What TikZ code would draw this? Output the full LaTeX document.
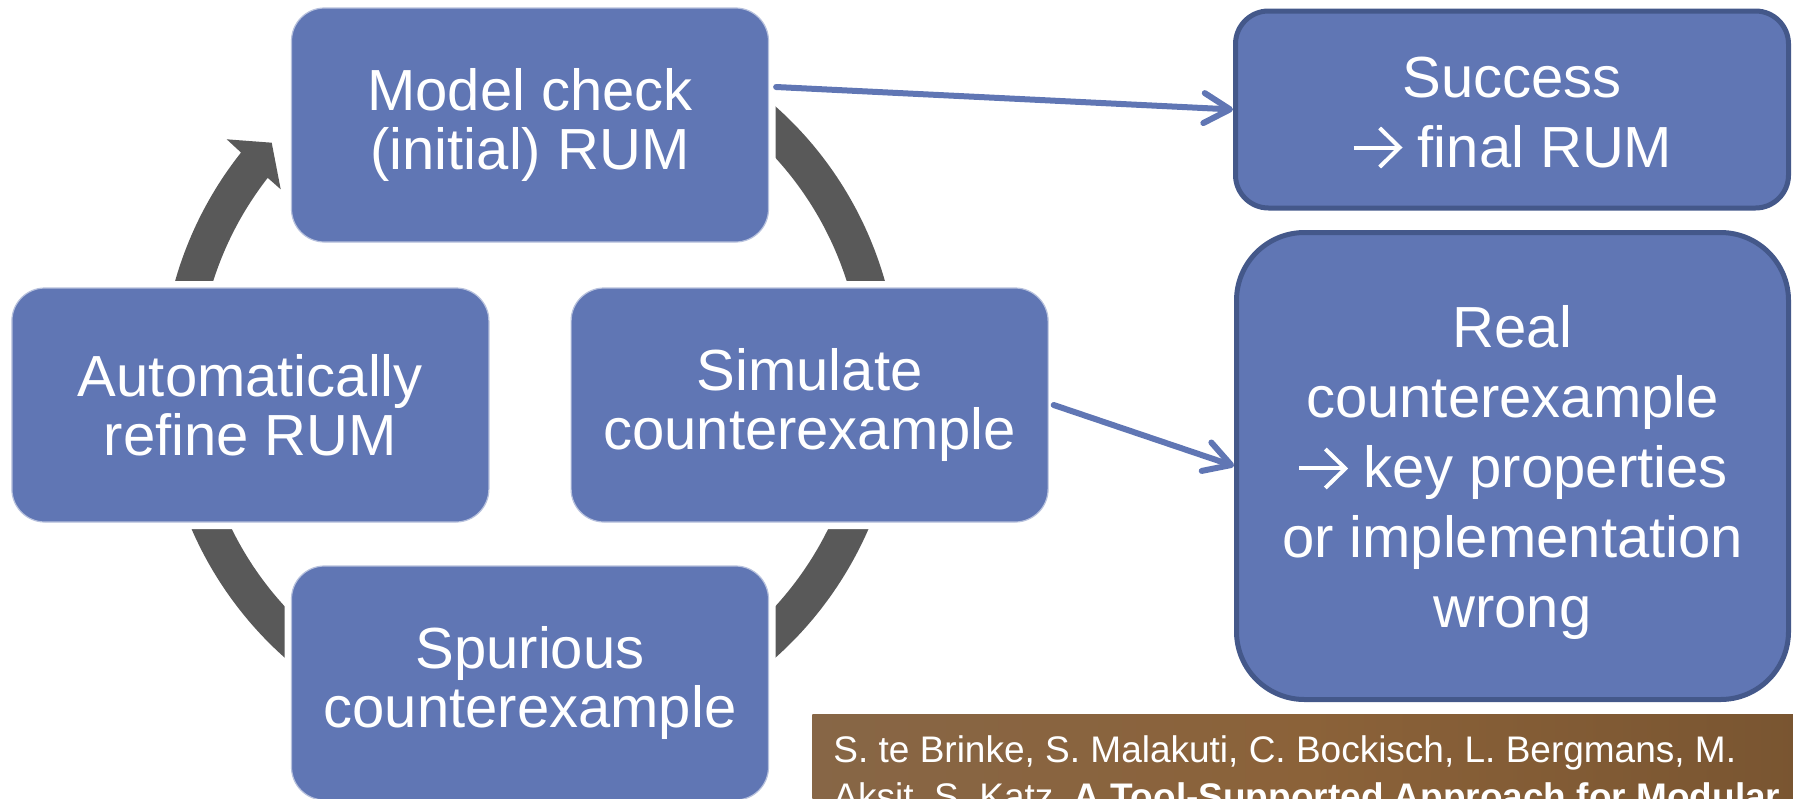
\documentclass[tikz,border=0pt]{standalone}
\usepackage{fontspec}
\setmainfont{Liberation Sans}
\usetikzlibrary{arrows.meta,calc}
\definecolor{boxblue}{RGB}{96,118,180}
\definecolor{boxedge}{RGB}{68,88,138}
\definecolor{ringgray}{RGB}{89,89,89}
\definecolor{citeL}{RGB}{135,102,70}
\definecolor{citeM}{RGB}{139,98,57}
\definecolor{citeR}{RGB}{121,85,49}

% thin open-headed arrow used inside the outcome texts
\newcommand{\thinarrow}{\tikz[baseline=0pt,x=1pt,y=1pt,sharp corners,
    line cap=butt,line join=miter,-]{%
  \draw[white,line width=2pt] (0,9.75) -- (22.5,9.75);
  \draw[white,line width=2pt] (13,19.5) -- (23,9.75) -- (13,0);}}

\begin{document}
\begin{tikzpicture}[x=0.5pt,y=0.5pt,
  cyclebox/.style={rectangle, rounded corners=16.5pt, fill=boxblue,
    draw=white!55!boxblue, line width=0.6pt,
    preaction={draw=white, line width=7pt},
    minimum width=238.5pt, minimum height=117pt, inner sep=0pt,
    text=white, align=center, font=\fontsize{29pt}{29.7pt}\selectfont,
    execute at begin node={\rule{0pt}{24.7pt}}},
  outcome/.style={rectangle, fill=boxblue, draw=boxedge, line width=2.5pt,
    text=white, align=center, inner sep=0pt,
    font=\fontsize{29pt}{35pt}\selectfont},
  conn/.style={draw=boxblue, line width=3pt, line cap=round,
    -{Straight Barb[length=13pt,width=15pt,round]}},
  citebox/.style={rectangle, anchor=north west, left color=citeL,
    right color=citeR, middle color=citeM, inner xsep=10.5pt,
    inner ysep=10.5pt, text=white, align=left,
    font=\fontsize{18.5pt}{23.4pt}\selectfont}
]
\useasboundingbox (0,0) rectangle (1793,-798);
\clip (0,0) rectangle (1793,-798);

% circular band of the refinement loop, with its head next to the model check
\coordinate (c) at (530,-382);
\fill[ringgray] ($(c)+(60:369)$) arc[start angle=60, end angle=-218.45, radius=369]
  -- (226.7,-139.3) -- (271.7,-142.7) -- (280.7,-189.3)
  -- ($(c)+(-217.9:332.4)$) arc[start angle=-217.9, end angle=60, radius=332.4]
  -- cycle;

% loop steps
\node[cyclebox] (model) at (530,-125) {Model check\\(initial) RUM};
\node[cyclebox] (auto) at (250.4,-405) {Automatically\\refine RUM};
\node[cyclebox] (sim) at (809.6,-405) {Simulate\\counterexample};
\node[cyclebox] (spur) at (530,-683) {Spurious\\counterexample};

% outcomes
\node[outcome, rounded corners=16.5pt, minimum width=276.5pt, minimum height=98.5pt]
  (succ) at (1512,-109.5) {\rule{0pt}{23.5pt}Success\\\thinarrow\ final RUM};
\node[outcome, rounded corners=34pt, minimum width=276pt, minimum height=233.5pt]
  (real) at (1512.5,-466) {\rule{0pt}{28pt}Real\\counterexample\\\thinarrow\ key properties\\or implementation\\wrong};

\draw[conn] ([shift={(7,38)}]model.east) -- (succ.west);
\draw[conn] ([shift={(5,0)}]sim.east) -- (real.west);

% reference
\node[citebox] (cite) at (812,-714)
  {S. te Brinke, S. Malakuti, C. Bockisch, L. Bergmans, M.\\
   Aksit, S. Katz, \textbf{A Tool-Supported Approach for Modular}};
\end{tikzpicture}
\end{document}
